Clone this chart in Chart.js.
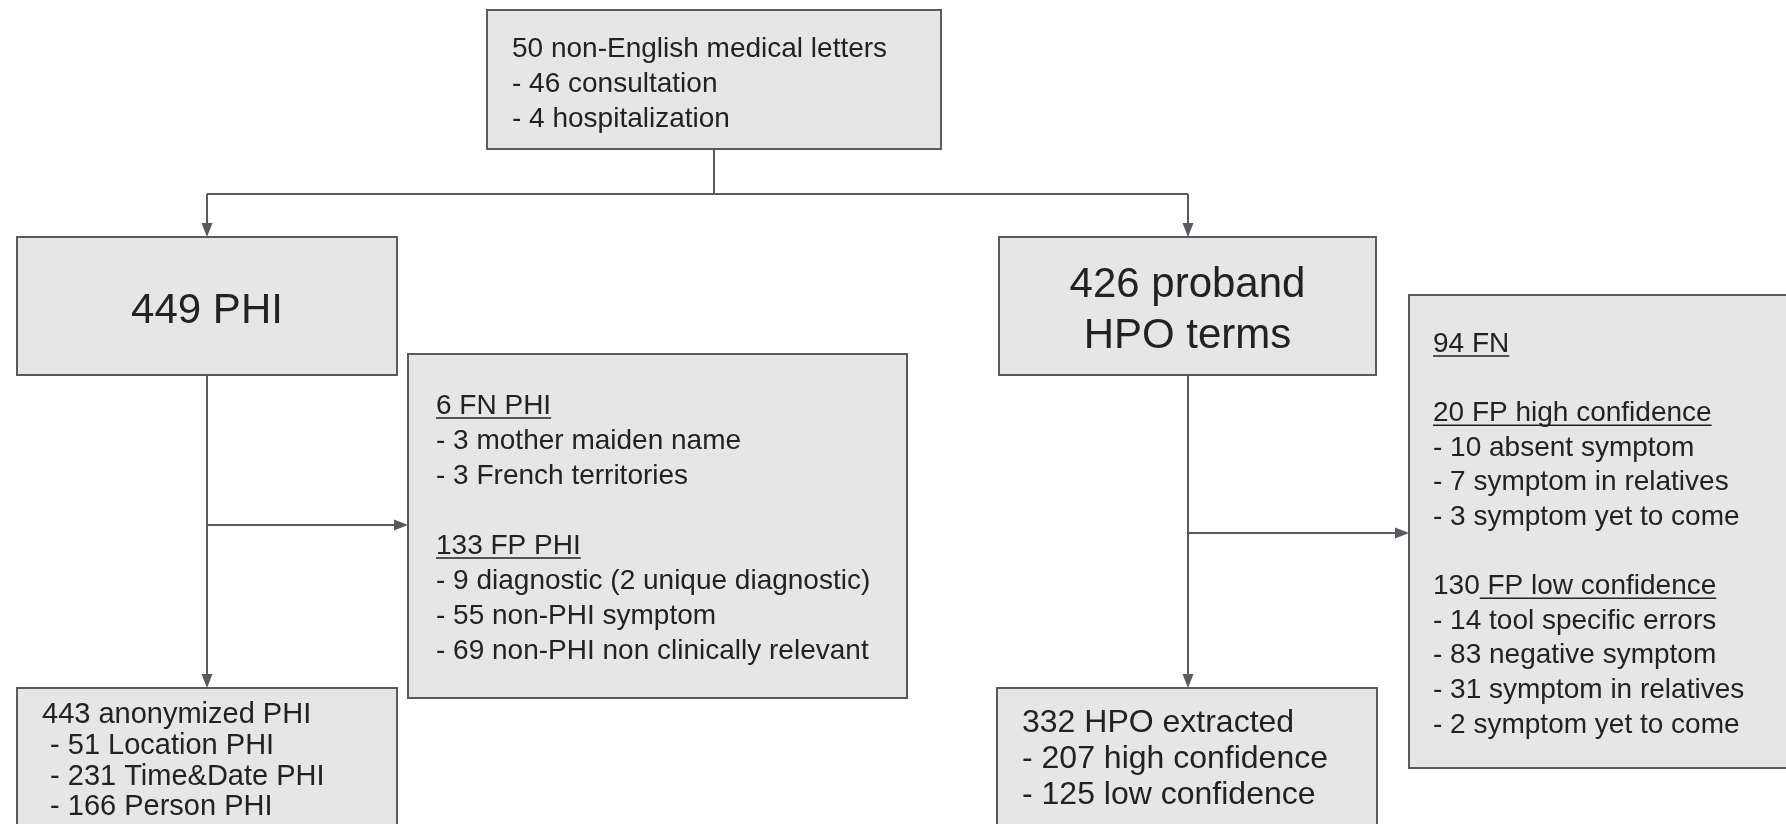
<!DOCTYPE html>
<html>
<head>
<meta charset="utf-8">
<script src="https://cdn.jsdelivr.net/npm/chart.js@4.4.1/dist/chart.umd.min.js"></script>
<style>
  html, body { margin: 0; padding: 0; background: #ffffff; }
  #wrap { width: 1786px; height: 824px; position: relative; }
</style>
</head>
<body>
<div id="wrap"><canvas id="flowChart"></canvas></div>
<script>
// counts and labels
var letterCounts = [50, 46, 4];
var letterLabels = ['non-English medical letters', 'consultation', 'hospitalization'];

var phiTotal = [449];
var phiLabel = ['PHI'];
var hpoTotal = [426];
var hpoLabel = ['proband', 'HPO terms'];

var fnPhiCounts = [6, 3, 3];
var fnPhiLabels = ['FN PHI', 'mother maiden name', 'French territories'];
var fpPhiCounts = [133, 9, 55, 69];
var fpPhiLabels = ['FP PHI', 'diagnostic (2 unique diagnostic)', 'non-PHI symptom', 'non-PHI non clinically relevant'];

var anonCounts = [443, 51, 231, 166];
var anonLabels = ['anonymized PHI', 'Location PHI', 'Time&Date PHI', 'Person PHI'];

var extractedCounts = [332, 207, 125];
var extractedLabels = ['HPO extracted', 'high confidence', 'low confidence'];

var fnHpoCounts = [94];
var fnHpoLabels = ['FN'];
var fpHighCounts = [20, 10, 7, 3];
var fpHighLabels = ['FP high confidence', 'absent symptom', 'symptom in relatives', 'symptom yet to come'];
var fpLowCounts = [130, 14, 83, 31, 2];
var fpLowLabels = ['FP low confidence', 'tool specific errors', 'negative symptom', 'symptom in relatives', 'symptom yet to come'];

// turn a counts/labels pair into text lines; u = underline start (0 whole line, 'label' after the count)
function group(counts, labels, u, pre) {
    var lines = [];
    for (var i = 0; i < counts.length; i++) {
        if (i == 0) {
            var head = counts[0] + ' ' + labels[0];
            var start = u === 'label' ? String(counts[0]).length : (u === 'all' ? 0 : null);
            lines.push({ t: head, u: start });
        } else {
            lines.push({ t: (pre || '') + '- ' + counts[i] + ' ' + labels[i], u: null });
        }
    }
    return lines;
}
var blank = [{ t: '', u: null }];

// layout, in the diagram's own units (same scale as the axes)
var boxes = [
    { x0: 487, y0: 10, x1: 941, y1: 149, size: 28, lh: 35, tx: 512, ty: 57,
      lines: group(letterCounts, letterLabels) },
    { x0: 17, y0: 237, x1: 397, y1: 375, size: 42, lh: 51, center: true, ty: 323,
      lines: [{ t: phiTotal[0] + ' ' + phiLabel[0], u: null }] },
    { x0: 999, y0: 237, x1: 1376, y1: 375, size: 42, lh: 51, center: true, ty: 297,
      lines: [{ t: hpoTotal[0] + ' ' + hpoLabel[0], u: null }, { t: hpoLabel[1], u: null }] },
    { x0: 408, y0: 354, x1: 907, y1: 698, size: 28, lh: 35, tx: 436, ty: 414,
      lines: group(fnPhiCounts, fnPhiLabels, 'all').concat(blank, group(fpPhiCounts, fpPhiLabels, 'all')) },
    { x0: 17, y0: 688, x1: 397, y1: 900, size: 29, lh: 30.8, tx: 42, ty: 723,
      lines: group(anonCounts, anonLabels, null, ' ') },
    { x0: 997, y0: 688, x1: 1377, y1: 900, size: 32, lh: 36, tx: 1022, ty: 732,
      lines: group(extractedCounts, extractedLabels) },
    { x0: 1409, y0: 295, x1: 1900, y1: 768, size: 28, lh: 34.6, tx: 1433, ty: 352,
      lines: group(fnHpoCounts, fnHpoLabels, 'all').concat(blank, group(fpHighCounts, fpHighLabels, 'all'), blank, group(fpLowCounts, fpLowLabels, 'label')) }
];

// connectors: [x0, y0, x1, y1, arrowhead at end]
var links = [
    [714, 149, 714, 194, false],
    [207, 194, 1188, 194, false],
    [207, 194, 207, 237, true],
    [1188, 194, 1188, 237, true],
    [207, 375, 207, 688, true],
    [207, 525, 408, 525, true],
    [1188, 375, 1188, 688, true],
    [1188, 533, 1409, 533, true]
];

var FONT = '"Liberation Sans", Arial, sans-serif';
var LINE = '#575a5f';
var FILL = '#e6e6e6';
var INK = '#222222';

var flowPlugin = {
    id: 'flow',
    afterDraw: function(chart) {
        var ctx = chart.ctx;
        var sx = chart.scales.x, sy = chart.scales.y;
        var px = function(v) { return sx.getPixelForValue(v); };
        var py = function(v) { return sy.getPixelForValue(v); };
        ctx.save();

        // boxes
        boxes.forEach(function(b) {
            var x0 = px(b.x0), y0 = py(b.y0), x1 = px(b.x1), y1 = py(b.y1);
            ctx.fillStyle = FILL;
            ctx.fillRect(x0, y0, x1 - x0, y1 - y0);
            ctx.strokeStyle = LINE;
            ctx.lineWidth = 2;
            ctx.strokeRect(x0, y0, x1 - x0, y1 - y0);

            ctx.font = b.size + 'px ' + FONT;
            ctx.fillStyle = INK;
            ctx.textBaseline = 'alphabetic';
            b.lines.forEach(function(ln, i) {
                var y = py(b.ty + i * b.lh);
                var x;
                if (b.center) {
                    ctx.textAlign = 'center';
                    x = (x0 + x1) / 2;
                } else {
                    ctx.textAlign = 'left';
                    x = px(b.tx);
                }
                ctx.fillText(ln.t, x, y);
                if (ln.u !== null && ln.u !== undefined) {
                    var ux = x + ctx.measureText(ln.t.slice(0, ln.u)).width;
                    var uw = ctx.measureText(ln.t.slice(ln.u)).width;
                    ctx.strokeStyle = INK;
                    ctx.lineWidth = 1.6;
                    ctx.beginPath();
                    ctx.moveTo(ux, y + 4);
                    ctx.lineTo(ux + uw, y + 4);
                    ctx.stroke();
                }
            });
        });

        // connectors + arrowheads
        ctx.strokeStyle = LINE;
        ctx.fillStyle = LINE;
        ctx.lineWidth = 2;
        links.forEach(function(l) {
            var ax = px(l[0]), ay = py(l[1]), bx = px(l[2]), by = py(l[3]);
            var ang = Math.atan2(by - ay, bx - ax);
            var len = 14, half = 5.5;
            var ex = l[4] ? bx - Math.cos(ang) * len : bx;
            var ey = l[4] ? by - Math.sin(ang) * len : by;
            ctx.beginPath();
            ctx.moveTo(ax, ay);
            ctx.lineTo(ex, ey);
            ctx.stroke();
            if (l[4]) {
                ctx.beginPath();
                ctx.moveTo(bx, by);
                ctx.lineTo(ex - Math.sin(ang) * half, ey + Math.cos(ang) * half);
                ctx.lineTo(ex + Math.sin(ang) * half, ey - Math.cos(ang) * half);
                ctx.closePath();
                ctx.fill();
            }
        });
        ctx.restore();
    }
};

var ctx = document.getElementById('flowChart');
var myChart = new Chart(ctx, {
    type: 'scatter',
    data: { datasets: [] },
    options: {
        responsive: true,
        maintainAspectRatio: false,
        devicePixelRatio: 1,
        animation: false,
        layout: { padding: 0 },
        plugins: { legend: { display: false }, tooltip: { enabled: false } },
        scales: {
            x: { type: 'linear', min: 0, max: 1786, display: false },
            y: { type: 'linear', min: 0, max: 824, reverse: true, display: false }
        }
    },
    plugins: [flowPlugin]
});
</script>
</body>
</html>
